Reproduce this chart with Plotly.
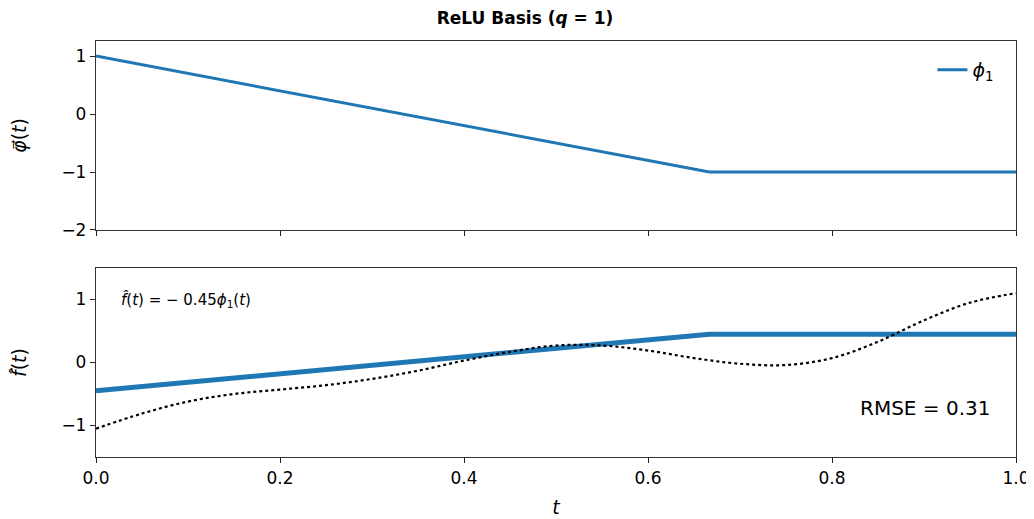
import plotly.graph_objects as go
from plotly.subplots import make_subplots

# ReLU basis (q = 1): knot at t = 2/3
basis_t = [0.0, 2 / 3, 1.0]
phi_1 = [1.0, -1.0, -1.0]

# fitted approximation f_hat = -0.45 * phi_1
coef = -0.45
fit_vals = [coef * v for v in phi_1]

# target function (dotted)
target_t = [0.0, 0.05, 0.1, 0.15, 0.2, 0.25, 0.3, 0.35, 0.4, 0.45, 0.5,
            0.55, 0.6, 0.65, 0.7, 0.75, 0.8, 0.85, 0.9, 0.95, 1.0]
target_vals = [-1.05, -0.81, -0.62, -0.50, -0.43, -0.36, -0.26, -0.13, 0.03, 0.17, 0.27,
               0.27, 0.19, 0.07, -0.02, -0.04, 0.07, 0.33, 0.67, 0.95, 1.10]

x_ticks = [0.0, 0.2, 0.4, 0.6, 0.8, 1.0]
top_ticks = [-2, -1, 0, 1]
bottom_ticks = [-1, 0, 1]

BLUE = "#1f77b4"
FONT = "DejaVu Sans"

fig = make_subplots(rows=2, cols=1, shared_xaxes=True, vertical_spacing=0.0914)

fig.add_trace(go.Scatter(x=basis_t, y=phi_1, mode="lines", name="<i>ϕ</i><sub>1</sub>",
                         line=dict(color=BLUE, width=3)), row=1, col=1)

fig.add_trace(go.Scatter(x=basis_t, y=fit_vals, mode="lines", showlegend=False,
                         line=dict(color=BLUE, width=5)), row=2, col=1)
fig.add_trace(go.Scatter(x=target_t, y=target_vals, mode="lines", showlegend=False,
                         line=dict(color="black", width=2.2, dash="dot", shape="spline")),
              row=2, col=1)

axis_style = dict(showline=True, linecolor="#333", linewidth=1.3, mirror=True,
                  ticks="outside", ticklen=5, tickwidth=1.3, tickcolor="#222",
                  showgrid=False, zeroline=False, automargin=False,
                  tickfont=dict(family=FONT, size=17, color="black"))

title_font = dict(family=FONT, size=19, color="black")

fig.update_xaxes(range=[0, 1], tickvals=x_ticks, **axis_style)
fig.update_xaxes(showticklabels=False, row=1, col=1)
fig.update_xaxes(tickformat=".1f", row=2, col=1,
                 title=dict(text="<i>t</i>", font=title_font, standoff=14))

fig.update_yaxes(**axis_style)
fig.update_yaxes(range=[-2, 1.26], tickvals=top_ticks, row=1, col=1,
                 title=dict(text="<i>φ\u20d7</i>(<i>t</i>)", font=title_font, standoff=29))
fig.update_yaxes(range=[-1.5, 1.5], tickvals=bottom_ticks, row=2, col=1,
                 title=dict(text="<i>f\u0302</i>(<i>t</i>)", font=title_font, standoff=29))

fig.add_annotation(x=0.025, y=1.0, xref="x2", yref="y2", xanchor="left", yanchor="middle",
                   text="<i>f\u0302</i>(<i>t</i>) = − 0.45<i>ϕ</i><sub>1</sub>(<i>t</i>)",
                   showarrow=False, font=dict(family=FONT, size=15, color="black"))
fig.add_annotation(x=0.975, y=-0.73, xref="x2", yref="y2", xanchor="right", yanchor="middle",
                   text="RMSE = 0.31", showarrow=False,
                   font=dict(family=FONT, size=20, color="black"))

# the page body adds an 8px offset, so margins are shifted to compensate
fig.update_layout(
    width=1034, height=519,
    margin=dict(l=88, r=26, t=33, b=70),
    paper_bgcolor="white", plot_bgcolor="white",
    title=dict(text="<b>ReLU Basis (<i>q</i> = 1)</b>", x=0.5, xanchor="center",
               y=0.981, yanchor="middle", font=dict(family=FONT, size=17, color="black")),
    legend=dict(x=0.982, y=0.976, xanchor="right", yanchor="top", bgcolor="rgba(0,0,0,0)",
                font=dict(family=FONT, size=19, color="black"), itemwidth=30),
    font=dict(family=FONT, color="black"),
)

fig.write_html("out.html")
